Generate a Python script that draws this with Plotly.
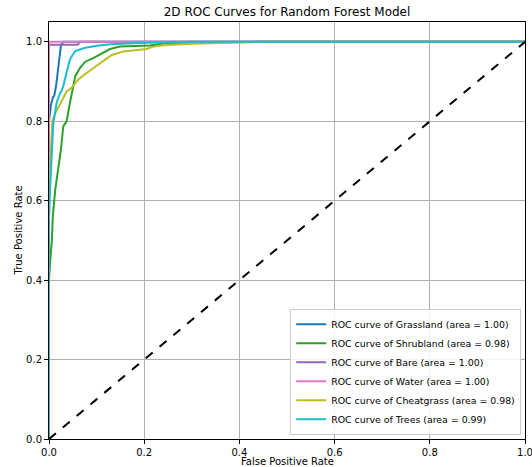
import plotly.graph_objects as go

class_names = ["Grassland", "Shrubland", "Bare", "Water", "Cheatgrass", "Trees"]
areas = [1.00, 0.98, 1.00, 1.00, 0.98, 0.99]
colors = ["#1f77b4", "#2ca02c", "#9467bd", "#e377c2", "#bcbd22", "#17becf"]

fpr_grassland = [0, 0, 0.004, 0.008, 0.011, 0.015, 0.02, 0.025, 0.03, 1.0]
tpr_grassland = [0, 0.80, 0.84, 0.86, 0.864, 0.89, 0.94, 0.99, 1.0, 1.0]

fpr_shrubland = [0, 0, 0.002, 0.006, 0.008, 0.013, 0.02, 0.025, 0.03, 0.037, 0.043, 0.05,
                 0.055, 0.065, 0.076, 0.093, 0.107, 0.128, 0.149, 0.212, 0.247, 0.44, 1.0]
tpr_shrubland = [0, 0.40, 0.44, 0.50, 0.56, 0.627, 0.686, 0.728, 0.787, 0.80, 0.84, 0.88,
                 0.913, 0.934, 0.95, 0.959, 0.968, 0.982, 0.988, 0.991, 0.997, 1.0, 1.0]

fpr_bare = [0, 0, 0.06, 0.065, 1.0]
tpr_bare = [0, 0.993, 0.993, 1.0, 1.0]

fpr_water = [0, 0, 0.002, 1.0]
tpr_water = [0, 0.997, 1.0, 1.0]

fpr_cheatgrass = [0, 0, 0.003, 0.007, 0.013, 0.02, 0.03, 0.037, 0.048, 0.062, 0.076, 0.09,
                  0.104, 0.118, 0.132, 0.156, 0.205, 0.219, 0.247, 0.303, 0.373, 0.45, 1.0]
tpr_cheatgrass = [0, 0.62, 0.70, 0.80, 0.82, 0.837, 0.862, 0.875, 0.885, 0.906, 0.919, 0.931,
                  0.944, 0.956, 0.967, 0.976, 0.982, 0.988, 0.992, 0.995, 0.997, 1.0, 1.0]

fpr_trees = [0, 0, 0.002, 0.004, 0.006, 0.009, 0.016, 0.023, 0.027, 0.03, 0.037, 0.044,
             0.055, 0.076, 0.104, 0.13, 0.19, 0.30, 1.0]
tpr_trees = [0, 0.55, 0.62, 0.68, 0.711, 0.795, 0.846, 0.871, 0.878, 0.889, 0.923, 0.956,
             0.977, 0.985, 0.991, 0.994, 0.997, 1.0, 1.0]

fprs = [fpr_grassland, fpr_shrubland, fpr_bare, fpr_water, fpr_cheatgrass, fpr_trees]
tprs = [tpr_grassland, tpr_shrubland, tpr_bare, tpr_water, tpr_cheatgrass, tpr_trees]

diag = [0, 1]
x_ticks = [0.0, 0.2, 0.4, 0.6, 0.8, 1.0]
y_ticks = [0.0, 0.2, 0.4, 0.6, 0.8, 1.0]

font_family = "DejaVu Sans"

fig = go.Figure()
for name, area, color, fx, ty in zip(class_names, areas, colors, fprs, tprs):
    fig.add_trace(go.Scatter(
        x=fx, y=ty, mode="lines",
        line=dict(color=color, width=2),
        name=f"ROC curve of {name} (area = {area:.2f})",
    ))

fig.add_trace(go.Scatter(
    x=diag, y=diag, mode="lines",
    line=dict(color="black", width=2, dash="dash"),
    showlegend=False,
))

axis_common = dict(
    showgrid=True, gridcolor="#b0b0b0", gridwidth=1,
    showline=True, linecolor="black", linewidth=1, mirror=True,
    ticks="outside", ticklen=4, tickcolor="black",
    tickfont=dict(family=font_family, size=10, color="black"),
    zeroline=False, automargin=False, ticklabeloverflow="allow",
)

fig.update_layout(
    width=532, height=467,
    margin=dict(l=49, r=7, t=22, b=28, autoexpand=False),
    paper_bgcolor="white", plot_bgcolor="white",
    title=dict(text="2D ROC Curves for Random Forest Model",
               x=(49 + 525) / 2 / 532, xanchor="center",
               y=1 - 12 / 467, yanchor="middle",
               font=dict(family=font_family, size=12, color="black")),
    xaxis=dict(range=[0, 1], tickvals=x_ticks, ticktext=[f"{v:.1f}" for v in x_ticks],
               **axis_common),
    yaxis=dict(range=[0, 1.05], tickvals=y_ticks, ticktext=[f"{v:.1f}" for v in y_ticks],
               **axis_common),
    legend=dict(
        x=0.992, y=0.01, xanchor="right", yanchor="bottom",
        bgcolor="rgba(255,255,255,0.85)", bordercolor="#cccccc", borderwidth=1,
        font=dict(family=font_family, size=9.4, color="black"),
        tracegroupgap=0, itemwidth=30,
    ),
    showlegend=True,
    annotations=[
        dict(text="False Positive Rate", xref="paper", yref="paper", x=0.5, y=0,
             xanchor="center", yanchor="middle", yshift=-22, showarrow=False,
             font=dict(family=font_family, size=10, color="black")),
        dict(text="True Positive Rate", xref="paper", yref="paper", x=0, y=0.5,
             xanchor="center", yanchor="middle", xshift=-31, textangle=-90, showarrow=False,
             font=dict(family=font_family, size=10, color="black")),
    ],
)

fig.write_html(
    "out.html",
    config={"displayModeBar": False},
    post_script="document.body.style.margin='0';document.body.style.overflow='hidden';",
)
